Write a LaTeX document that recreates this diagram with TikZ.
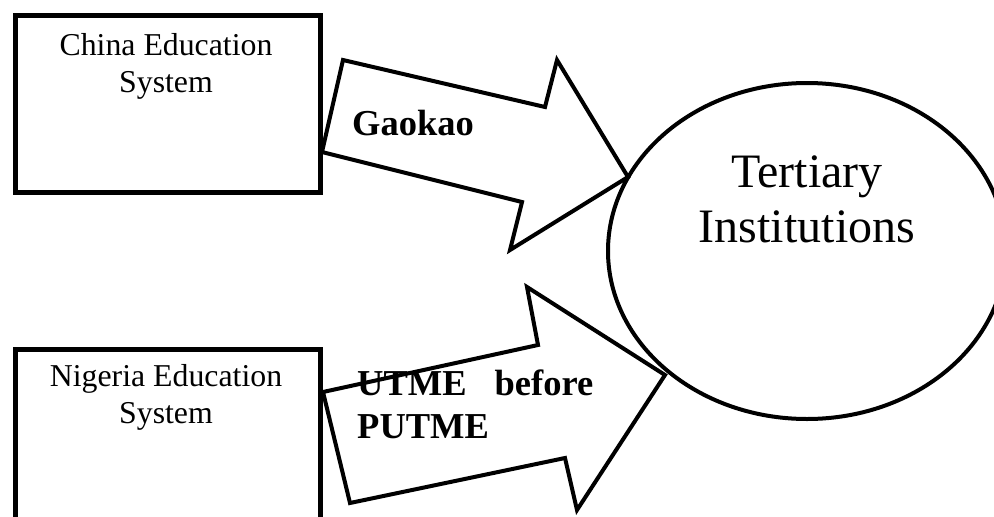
\documentclass[tikz,border=0pt]{standalone}
\usepackage{fontspec}
\usetikzlibrary{shapes.geometric}
\setmainfont{Liberation Serif}
\begin{document}
\begin{tikzpicture}[x=1pt,y=-1pt,
  box/.style={draw,line width=5pt,inner sep=0pt,anchor=north west},
  boxtext/.style={align=center,inner sep=0pt,anchor=base,font=\fontsize{31.8}{37}\selectfont},
  blockarrow/.style={draw,line width=4pt,line join=miter},
  boldlabel/.style={align=left,inner sep=0pt,anchor=base west,font=\fontsize{36.5}{43}\selectfont\bfseries},
  target/.style={draw,ellipse,line width=4pt,inner sep=0pt,minimum width=398pt,minimum height=336pt}]
\useasboundingbox (0,0) rectangle (994,517);
% boxes
\node[box,minimum width=305pt,minimum height=177pt] (china) at (13,13) {};
\node[boxtext] (chinatext) at (166,92) {China Education\\System};
\node[box,minimum width=305pt,minimum height=200pt] (nigeria) at (13,347) {};
\node[boxtext] (nigeriatext) at (166,423) {Nigeria Education\\System};
% ellipse
\node[target] (tert) at (807,251) {};
\node[align=center,inner sep=0pt,anchor=base,font=\fontsize{48}{55}\selectfont] (terttext) at (807,242) {Tertiary\\Institutions};
% block arrows
\coordinate (a1tail1) at (343,60);
\coordinate (a1tail2) at (322,152);
\coordinate (a1tip) at (628,177);
\draw[blockarrow] (a1tail1) -- (545,107) -- (557,60) -- (a1tip) -- (510,250) -- (522,202) -- (a1tail2) -- cycle;
\coordinate (a2tail1) at (323,392);
\coordinate (a2tail2) at (350,503);
\coordinate (a2tip) at (665,375);
\draw[blockarrow] (a2tail1) -- (538,345) -- (527,287) -- (a2tip) -- (577,510) -- (565,458) -- (a2tail2) -- cycle;
% labels
\node[boldlabel] (gaokao) at (352,135) {Gaokao};
\node[boldlabel] (utme) at (357,438) {UTME\hspace{28pt}before\\PUTME};
\end{tikzpicture}
\end{document}
